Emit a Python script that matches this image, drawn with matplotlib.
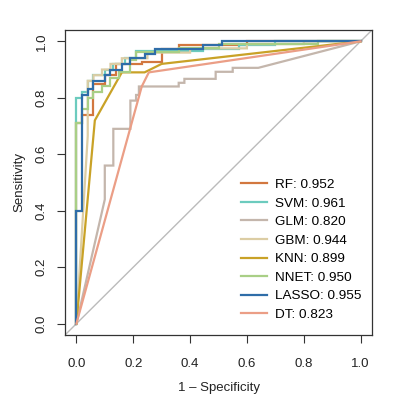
import matplotlib
matplotlib.use("Agg")
import matplotlib.pyplot as plt

plt.rcParams['font.family'] = ['Liberation Sans', 'DejaVu Sans']

# ROC curves (false positive rate, true positive rate)
models = ["RF", "SVM", "GLM", "GBM", "KNN", "NNET", "LASSO", "DT"]
aucs = [0.952, 0.961, 0.820, 0.944, 0.899, 0.950, 0.955, 0.823]
colors = ["#D2773F", "#6CCBBE", "#C4B6AC", "#DCCDA4", "#C9A227",
          "#A9CF86", "#2F6DA8", "#EB9E86"]

rf_fpr = [0, 0, 0.02, 0.02, 0.06, 0.06, 0.10, 0.10, 0.14, 0.14, 0.23, 0.23,
          0.30, 0.30, 0.36, 0.36, 0.60, 0.60, 1]
rf_tpr = [0, 0.71, 0.71, 0.74, 0.74, 0.85, 0.85, 0.88, 0.88, 0.918, 0.918, 0.925,
          0.925, 0.974, 0.974, 0.986, 0.986, 1, 1]

svm_fpr = [0, 0, 0.02, 0.02, 0.04, 0.04, 0.06, 0.06, 0.10, 0.10, 0.13, 0.13,
           0.17, 0.17, 0.21, 0.21, 0.447, 0.447, 0.573, 0.573, 0.70, 0.70, 1]
svm_tpr = [0, 0.80, 0.80, 0.82, 0.82, 0.86, 0.86, 0.88, 0.88, 0.90, 0.90, 0.92,
           0.92, 0.94, 0.94, 0.965, 0.965, 0.972, 0.972, 0.988, 0.988, 1, 1]

glm_fpr = [0, 0.10, 0.10, 0.13, 0.13, 0.19, 0.19, 0.21, 0.21, 0.22, 0.22, 0.36,
           0.36, 0.38, 0.38, 0.49, 0.49, 0.55, 0.55, 0.64, 1]
glm_tpr = [0, 0.44, 0.56, 0.56, 0.69, 0.69, 0.79, 0.79, 0.81, 0.81, 0.84, 0.84,
           0.853, 0.853, 0.867, 0.867, 0.892, 0.892, 0.906, 0.906, 1]

gbm_fpr = [0, 0.04, 0.04, 0.06, 0.06, 0.09, 0.09, 0.12, 0.12, 0.16, 0.16, 0.25,
           0.25, 0.40, 0.40, 0.60, 0.60, 0.80, 0.80, 1]
gbm_tpr = [0, 0.665, 0.86, 0.86, 0.88, 0.88, 0.90, 0.90, 0.92, 0.92, 0.94, 0.94,
           0.96, 0.96, 0.975, 0.975, 0.99, 0.99, 1, 1]

knn_fpr = [0, 0.065, 0.16, 0.24, 0.30, 1]
knn_tpr = [0, 0.72, 0.89, 0.89, 0.92, 1]

nnet_fpr = [0, 0, 0.02, 0.02, 0.04, 0.04, 0.06, 0.06, 0.09, 0.09, 0.12, 0.12,
            0.15, 0.15, 0.19, 0.19, 0.21, 0.21, 0.36, 0.36, 0.50, 0.50, 0.85, 0.85, 1]
nnet_tpr = [0, 0.71, 0.71, 0.76, 0.76, 0.80, 0.80, 0.82, 0.82, 0.84, 0.84, 0.87,
            0.87, 0.89, 0.89, 0.935, 0.935, 0.963, 0.963, 0.975, 0.975, 0.99, 0.99, 1, 1]

lasso_fpr = [0, 0, 0.02, 0.02, 0.04, 0.04, 0.06, 0.06, 0.10, 0.10, 0.12, 0.12,
             0.16, 0.16, 0.19, 0.19, 0.24, 0.24, 0.275, 0.275, 0.447, 0.447,
             0.512, 0.512, 1]
lasso_tpr = [0, 0.40, 0.40, 0.81, 0.81, 0.83, 0.83, 0.86, 0.86, 0.88, 0.88, 0.90,
             0.90, 0.92, 0.92, 0.94, 0.94, 0.955, 0.955, 0.974, 0.974, 0.988,
             0.988, 1, 1]

dt_fpr = [0, 0.23, 0.255, 1]
dt_tpr = [0, 0.84, 0.89, 1]

curves = [(rf_fpr, rf_tpr), (svm_fpr, svm_tpr), (glm_fpr, glm_tpr),
          (gbm_fpr, gbm_tpr), (knn_fpr, knn_tpr), (nnet_fpr, nnet_tpr),
          (lasso_fpr, lasso_tpr), (dt_fpr, dt_tpr)]


def main():
    fig = plt.figure(figsize=(4, 4), dpi=100)
    ax = fig.add_axes([0.1625, 0.1625, 0.7675, 0.7625])

    ax.axline((0, 0), (1, 1), color="#BBBBBB", lw=1.0, zorder=1)

    for name, auc, col, (fx, ty) in zip(models, aucs, colors, curves):
        ax.plot(fx, ty, color=col, lw=1.6, label=f"{name}: {auc:.3f}",
                solid_joinstyle="miter", zorder=2)

    ax.set_xlim(-0.04, 1.04)
    ax.set_ylim(-0.04, 1.04)
    ticks = [0.0, 0.2, 0.4, 0.6, 0.8, 1.0]
    ax.set_xticks(ticks)
    ax.set_yticks(ticks)
    ax.set_xticklabels([f"{t:.1f}" for t in ticks])
    ax.set_yticklabels([f"{t:.1f}" for t in ticks], rotation=90, va="center")
    ax.tick_params(direction="out", length=5.5, width=0.8, colors="#333333",
                   labelsize=9.5, labelcolor="#222222")
    ax.tick_params(axis="x", pad=11)
    ax.tick_params(axis="y", pad=7)
    for s in ax.spines.values():
        s.set_color("#333333")
        s.set_linewidth(0.9)

    ax.set_xlabel("1 \u2013 Specificity", fontsize=9.5, color="#222222", labelpad=9)
    ax.set_ylabel("Sensitivity", fontsize=9.5, color="#222222", labelpad=7)

    ax.legend(loc="lower left", bbox_to_anchor=(0.573, 0.046), frameon=False,
              fontsize=9.7, handlelength=1.9, handletextpad=0.6,
              labelspacing=0.455, borderpad=0, borderaxespad=0)

    fig.savefig("out.png", dpi=100)


if __name__ == "__main__":
    main()
